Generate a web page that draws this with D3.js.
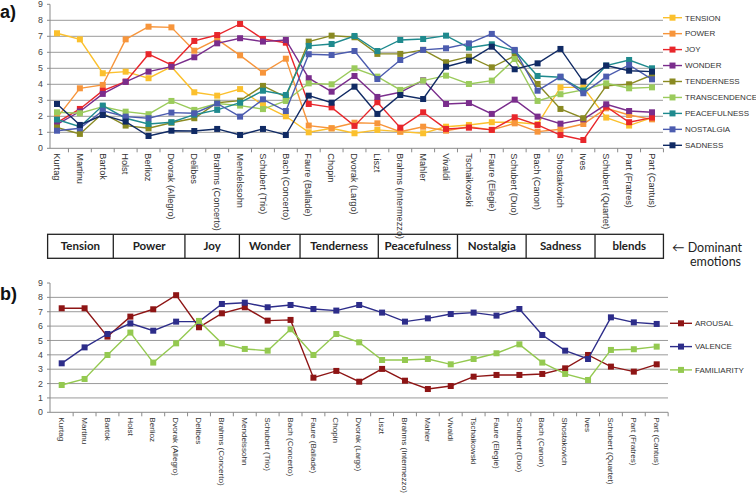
<!DOCTYPE html>
<html><head><meta charset="utf-8">
<script src="https://cdn.jsdelivr.net/npm/d3@7"></script>
<style>
html,body{margin:0;padding:0;background:#fff;}
svg{display:block;}
</style></head>
<body>
<svg id="chart" width="756" height="495" font-family="'Liberation Sans', Arial, Helvetica, sans-serif"></svg>
<script>
const composers = ["Kurtag","Martinu","Bartok","Holst","Berlioz","Dvorak (Allegro)","Delibes","Brahms (Concerto)","Mendelssohn","Schubert (Trio)","Bach (Concerto)","Faure (Ballade)","Chopin","Dvorak (Largo)","Liszt","Brahms (Intermezzo)","Mahler","Vivaldi","Tschaikowski","Faure (Elegie)","Schubert (Duo)","Bach (Canon)","Shostakovich","Ives","Schubert (Quartet)","Part (Fratres)","Part (Cantus)"];

const emotionNames = ["TENSION","POWER","JOY","WONDER","TENDERNESS","TRANSCENDENCE","PEACEFULNESS","NOSTALGIA","SADNESS"];
const tension       = [7.19,6.81,4.69,4.79,4.38,5.1,3.5,3.29,3.7,2.7,2.0,1.0,1.25,0.94,1.15,1.04,0.94,1.35,1.46,1.63,1.63,1.5,3.81,3.81,1.92,1.42,1.92];
const power         = [1.9,3.75,3.96,6.81,7.6,7.56,6.1,6.81,5.81,4.73,5.6,1.42,1.25,1.6,1.56,1.04,1.35,1.1,1.35,1.15,1.56,1.04,1.19,1.52,2.5,2.08,1.81];
const joy           = [1.6,2.46,3.6,4.17,5.88,5.21,6.71,7.08,7.77,6.83,6.6,2.77,2.56,1.4,2.88,1.29,2.25,1.21,1.29,1.15,1.94,1.46,0.83,0.52,2.6,1.63,1.92];
const wonder        = [1.5,2.3,3.4,4.15,4.79,5.1,5.69,6.56,6.88,6.67,6.77,4.38,3.54,4.52,3.21,3.5,4.25,2.77,2.83,2.15,3.04,1.98,1.54,1.81,2.75,2.33,2.25];
const tenderness    = [1.3,0.9,2.19,1.42,1.25,1.6,1.88,2.85,2.98,3.9,3.2,6.67,7.04,6.94,5.9,5.9,6.15,5.38,5.73,5.06,5.77,4.02,2.46,1.88,3.9,4.0,4.58];
const transcendence = [2.25,2.19,2.6,2.29,2.13,2.96,2.4,2.8,2.67,2.45,2.96,4.06,4.0,5.0,4.48,3.65,4.23,4.54,4.02,4.23,5.58,2.96,3.38,3.65,4.06,3.75,3.81];
const peacefulness  = [1.8,1.35,2.67,1.88,1.52,1.63,2.1,2.4,2.85,3.6,3.33,6.4,6.52,7.02,6.08,6.77,6.83,7.04,6.29,6.5,6.1,4.52,4.44,3.6,5.17,5.52,5.0];
const nostalgia     = [1.1,1.25,2.35,1.98,1.88,2.23,2.19,2.8,1.98,3.06,2.33,5.88,5.83,6.08,4.33,5.52,6.15,6.25,6.56,7.15,6.15,3.6,4.48,3.44,4.48,5.21,4.31];
const sadness       = [2.77,1.46,2.08,1.67,0.77,1.1,1.08,1.21,0.83,1.21,0.83,3.29,2.85,3.85,2.15,3.33,3.08,5.1,5.48,6.35,4.94,5.31,6.21,4.17,5.17,4.85,4.79];
const emotionColors = ["#FBC02D","#F7953B","#E8262B","#7A2D8C","#8A8A22","#9BCB5C","#1F8A8E","#4C5CAF","#102A64"];

const ratingNames = ["AROUSAL","VALENCE","FAMILIARITY"];
const arousal     = [7.24,7.24,5.27,6.66,7.17,8.15,5.92,6.89,7.31,6.38,6.43,2.41,2.88,2.13,3.02,2.2,1.62,1.83,2.48,2.6,2.6,2.67,3.06,3.99,3.18,2.83,3.34];
const valence     = [3.41,4.52,5.45,6.19,5.68,6.31,6.31,7.54,7.63,7.31,7.47,7.19,7.08,7.47,6.94,6.31,6.54,6.84,6.94,6.73,7.19,5.38,4.29,3.71,6.61,6.26,6.15];
const familiarity = [1.9,2.32,3.99,5.55,3.46,4.8,6.36,4.8,4.41,4.29,5.78,3.99,5.45,4.87,3.64,3.64,3.71,3.34,3.71,4.11,4.73,3.46,2.67,2.25,4.34,4.39,4.57];
const ratingColors = ["#8E1515","#2D2D8A","#94C950"];

const yTicks = [0,1,2,3,4,5,6,7,8,9];
const groups = ["Tension","Power","Joy","Wonder","Tenderness","Peacefulness","Nostalgia","Sadness","blends"];
// box edges in category-index units (layout)
const groupEdges = [-0.41,2.46,5.59,7.97,10.62,14.04,17.5,20.5,23.51,26.5];

const svg = d3.select("#chart");
const SANS = "'Liberation Sans', Arial, Helvetica, sans-serif";
const LATO = "Lato, 'Open Sans', sans-serif";

function panel(cfg){
  const g = svg.append("g");
  const x = d3.scalePoint().domain(composers).range(cfg.xr);
  const y = d3.scaleLinear().domain([0,9]).range(cfg.yr);
  const step = x.step();
  g.selectAll("line.grid").data(yTicks.filter(t=>t>0 && t<9)).enter().append("line")
    .attr("x1",cfg.axisX).attr("x2",cfg.gridEnd).attr("y1",d=>y(d)).attr("y2",d=>y(d))
    .attr("stroke","#9a9a9a").attr("stroke-width",1);
  g.append("line").attr("x1",cfg.axisX).attr("x2",cfg.gridEnd).attr("y1",y(0)).attr("y2",y(0))
    .attr("stroke","#8a8a8a").attr("stroke-width",1);
  g.append("line").attr("x1",cfg.axisX).attr("x2",cfg.axisX).attr("y1",y(0)).attr("y2",y(9))
    .attr("stroke","#8a8a8a").attr("stroke-width",1);
  g.selectAll("line.yt").data(yTicks).enter().append("line")
    .attr("x1",cfg.axisX-3).attr("x2",cfg.axisX).attr("y1",d=>y(d)).attr("y2",d=>y(d))
    .attr("stroke","#8a8a8a");
  g.selectAll("text.yl").data(yTicks).enter().append("text")
    .attr("x",cfg.axisX-7).attr("y",d=>y(d)).attr("dy","0.35em")
    .attr("font-family",SANS)
    .attr("text-anchor","end").attr("font-size",8.8).attr("fill","#444").text(d=>d);
  const tickPos = composers.map(c=>x(c)-step/2).concat([x(composers[composers.length-1])+step/2]);
  g.selectAll("line.xt").data(tickPos.slice(1)).enter().append("line")
    .attr("x1",d=>d).attr("x2",d=>d).attr("y1",y(0)).attr("y2",y(0)+4)
    .attr("stroke","#8a8a8a");
  g.selectAll("text.xl").data(composers).enter().append("text")
    .attr("transform",d=>`translate(${x(d)},${y(0)+cfg.labelGap}) rotate(90)`)
    .attr("font-family",SANS)
    .attr("dy","0.35em").attr("font-size",cfg.labelSize).attr("fill","#333").text(d=>d);
  const line = d3.line().x((d,i)=>x(composers[i])).y(d=>y(d));
  cfg.series.forEach((s,k)=>{
    const sg = g.append("g");
    sg.append("path").attr("d",line(s)).attr("fill","none")
      .attr("stroke",cfg.colors[k]).attr("stroke-width",1.4);
    sg.selectAll("rect").data(s).enter().append("rect")
      .attr("x",(d,i)=>x(composers[i])-cfg.ms/2).attr("y",d=>y(d)-cfg.ms/2)
      .attr("width",cfg.ms).attr("height",cfg.ms).attr("fill",cfg.colors[k]);
  });
  cfg.names.forEach((n,k)=>{
    const ly = cfg.legY + k*cfg.legStep;
    g.append("line").attr("x1",cfg.legX).attr("x2",cfg.legX+cfg.legW).attr("y1",ly).attr("y2",ly)
      .attr("stroke",cfg.colors[k]).attr("stroke-width",1.4);
    g.append("rect").attr("x",cfg.legX+cfg.legW/2-3).attr("y",ly-3).attr("width",6).attr("height",6)
      .attr("fill",cfg.colors[k]);
    g.append("text").attr("x",cfg.legX+cfg.legW+3).attr("y",ly).attr("dy","0.35em")
      .attr("font-family",SANS)
      .attr("font-size",8).attr("fill","#333").text(n);
  });
  return {x,y};
}

panel({xr:[57,652], yr:[148.3,4.3], axisX:50, gridEnd:663, labelGap:5, labelSize:9.2, ms:6,
  series:[tension,power,joy,wonder,tenderness,transcendence,peacefulness,nostalgia,sadness],
  colors:emotionColors, names:emotionNames, legX:663, legW:19, legY:17.7, legStep:15.95});

panel({xr:[61.7,656.7], yr:[412.3,283], axisX:50, gridEnd:668, labelGap:5, labelSize:8.1, ms:6,
  series:[arousal,valence,familiarity],
  colors:ratingColors, names:ratingNames, legX:670, legW:22, legY:323.3, legStep:23.3});

svg.append("text").attr("x",0).attr("y",18).attr("font-family",SANS).attr("font-size",18).attr("font-weight","bold").attr("fill","#111").text("a)");
svg.append("text").attr("x",0).attr("y",300).attr("font-family",SANS).attr("font-size",18).attr("font-weight","bold").attr("fill","#111").text("b)");

const gx = d3.scaleLinear().domain([0,composers.length-1]).range([57,652]);
const boxTop = 234.3, boxBot = 258.3;
const bg = svg.append("g");
bg.append("rect").attr("x",gx(groupEdges[0])).attr("y",boxTop)
  .attr("width",gx(groupEdges[groupEdges.length-1])-gx(groupEdges[0])).attr("height",boxBot-boxTop)
  .attr("fill","none").attr("stroke","#222").attr("stroke-width",1.3);
bg.selectAll("line").data(groupEdges.slice(1,-1)).enter().append("line")
  .attr("x1",d=>gx(d)).attr("x2",d=>gx(d)).attr("y1",boxTop).attr("y2",boxBot)
  .attr("stroke","#222").attr("stroke-width",1.3);
bg.selectAll("text").data(groups).enter().append("text")
  .attr("x",(d,i)=>(gx(groupEdges[i])+gx(groupEdges[i+1]))/2).attr("y",(boxTop+boxBot)/2)
  .attr("dy","0.36em").attr("text-anchor","middle")
  .attr("font-family",LATO).attr("font-weight","bold").attr("font-size",11.5)
  .attr("fill","#222").text(d=>d);
svg.append("text").attr("x",672).attr("y",251.5).attr("font-family",LATO)
  .attr("font-size",12.5).attr("fill","#222").text("\u2190 Dominant");
svg.append("text").attr("x",690).attr("y",266).attr("font-family",LATO)
  .attr("font-size",12.5).attr("fill","#222").text("emotions");
</script>
</body></html>
